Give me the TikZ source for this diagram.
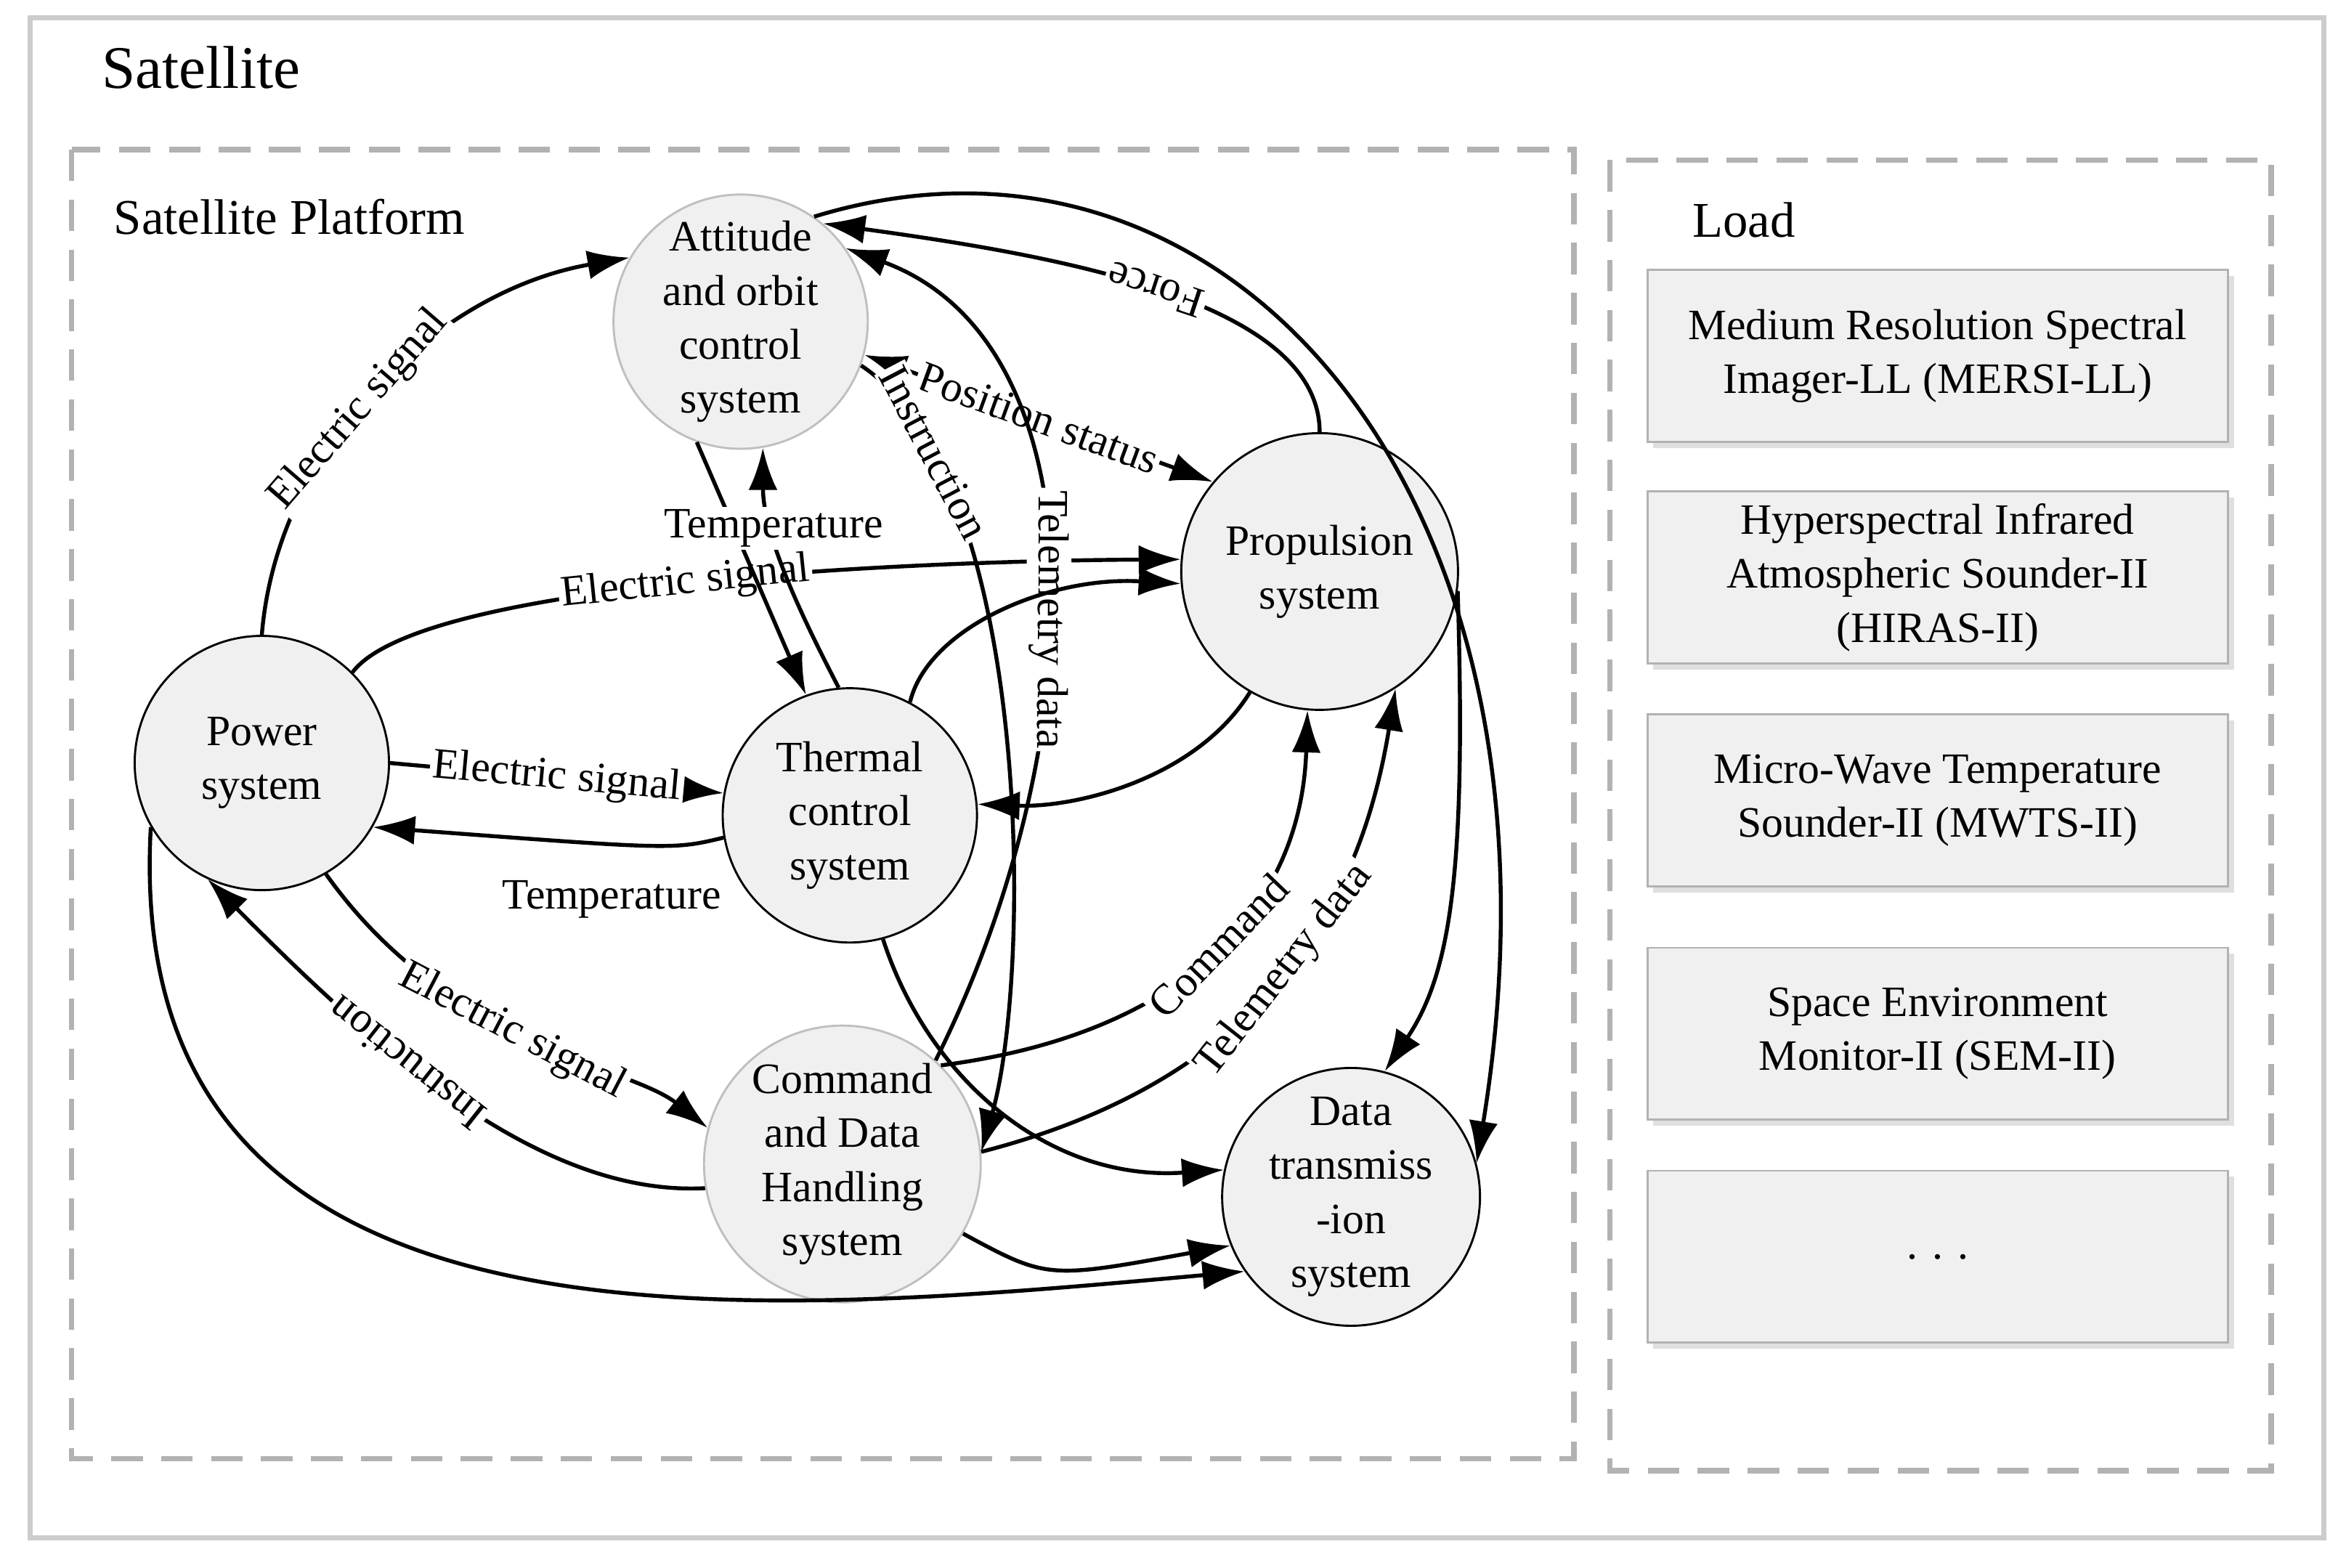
\documentclass[tikz,border=0pt]{standalone}
\usepackage{fontspec}
\setmainfont{Liberation Serif}
\usetikzlibrary{positioning,arrows.meta,shadows}
\tikzstyle{subsystem}=[draw,circle,thick,fill=gray!12,minimum size=3.4cm,inner sep=0pt,align=center,font=\fontsize{16.5}{20.5}\selectfont]
\tikzstyle{loadBox}=[draw=gray!60,thick,fill=gray!12,minimum width=7.76cm,minimum height=2.3cm,align=center,font=\fontsize{16.5}{20.5}\selectfont,drop shadow={opacity=0.25}]
\tikzstyle{flow}=[-{Latex[length=16pt,width=11pt]},line width=1.5pt]
\tikzstyle{tag}=[fill=white,inner sep=1pt,font=\fontsize{16.5}{20.5}\selectfont]

\begin{document}
\begin{tikzpicture}[x=0.02cm,y=-0.02cm]
	\useasboundingbox (0,0) rectangle (1568,1048);
	% frames
	\draw[gray!40,line width=2pt] (20,12) rectangle (1553,1028);
	\node[anchor=west,font=\fontsize{23}{27}\selectfont] (sat) at (62,45) {Satellite};
	\draw[gray!60,line width=2pt,dash pattern=on 12pt off 7pt] (48,100) rectangle (1052,975);
	\node[anchor=west,font=\fontsize{19}{23}\selectfont] (plat) at (70,145) {Satellite Platform};
	\draw[gray!60,line width=2pt,dash pattern=on 12pt off 7pt] (1076,107) rectangle (1518,983);
	\node[anchor=west,font=\fontsize{19}{23}\selectfont] (load) at (1125,147) {Load};

	% payloads
	\node[loadBox] (l1) at (1295,238) {Medium Resolution Spectral\\Imager-LL (MERSI-LL)};
	\node[loadBox] (l2) at (1295,386) {Hyperspectral Infrared\\Atmospheric Sounder-II\\(HIRAS-II)};
	\node[loadBox] (l3) at (1295,535) {Micro-Wave Temperature\\Sounder-II (MWTS-II)};
	\node[loadBox] (l4) at (1295,691) {Space Environment\\Monitor-II (SEM-II)};
	\node[loadBox] (l5) at (1295,840) {. . .};

	% subsystems
	\node[subsystem] (pw) at (175,510) {Power\\system};
	\node[subsystem,draw=gray!50] (att) at (495,215) {Attitude\\and orbit\\control\\system};
	\node[subsystem] (th) at (568,545) {Thermal\\control\\system};
	\node[subsystem,minimum size=3.7cm] (prop) at (882,382) {Propulsion\\system};
	\node[subsystem,draw=gray!50,minimum size=3.7cm] (cmd) at (563,778) {Command\\and Data\\Handling\\system};
	\node[subsystem,minimum size=3.3cm] (data) at (903,800) {Data\\transmiss\\-ion\\system};

	% links
	\draw[flow] (pw.north) .. controls (185,300) and (290,195) .. node[tag,sloped,pos=0.45] {Electric signal} (att.150);
	\draw[flow] (pw.45) .. controls (280,390) and (600,375) .. node[tag,sloped,pos=0.5] {Electric signal} (prop.175);
	\draw[flow] (pw.east) -- node[tag,sloped] {Electric signal} (th.170);
	\draw[flow] (th.190) .. controls (450,568) .. node[tag,below=12pt,pos=0.6] {Temperature} (pw.-30);
	\draw[flow] (pw.-60) .. controls (300,700) and (420,712) .. node[tag,sloped,pos=0.45] {Electric signal} (cmd.165);
	\draw[flow] (cmd.190) .. controls (360,800) and (250,700) .. node[tag,sloped,allow upside down,pos=0.6] {Instruction} (pw.-115);
	\draw[flow] (pw.-150) .. controls (80,920) and (500,880) .. (data.215);
	\draw[flow] (att.-110) -- (th.110);
	\draw[flow] (th.95) .. controls (540,420) and (510,360) .. node[tag,pos=0.7] {Temperature} (att.-80);
	\draw[{Latex[length=16pt,width=11pt]}-{Latex[length=16pt,width=11pt]},line width=1.5pt] (att.-15) -- node[tag,sloped] {Position status} (prop.140);
	\draw[flow] (prop.north) .. controls (882,200) and (700,170) .. node[tag,sloped,allow upside down,pos=0.5] {Force} (att.50);
	\draw[flow] (att.-20) .. controls (690,320) and (690,650) .. node[tag,sloped,pos=0.17] {Instruction} (cmd.5);
	\draw[{Latex[length=16pt,width=11pt]}-,line width=1.5pt] (att.35) .. controls (740,230) and (730,500) .. node[tag,sloped,allow upside down,pos=0.55] {Telemetry data} (cmd.48);
	\draw[flow] (prop.-120) .. controls (800,520) and (720,540) .. (th.5);
	\draw[flow] (th.62) .. controls (620,420) and (700,385) .. (prop.185);
	\draw[flow] (cmd.45) .. controls (800,690) and (870,600) .. node[tag,sloped,pos=0.5] {Command} (prop.-95);
	\draw[flow] (cmd.5) .. controls (850,720) and (910,600) .. node[tag,sloped,pos=0.5] {Telemetry data} (prop.-57);
	\draw[flow] (prop.-8) .. controls (980,580) and (970,650) .. (data.75);
	\draw[flow] (th.-75) .. controls (620,720) and (700,790) .. (data.168);
	\draw[flow] (cmd.-30) .. controls (700,855) .. (data.202);
	\draw[flow] (att.55) .. controls (820,60) and (1060,330) .. (data.15);
\end{tikzpicture}
\end{document}
